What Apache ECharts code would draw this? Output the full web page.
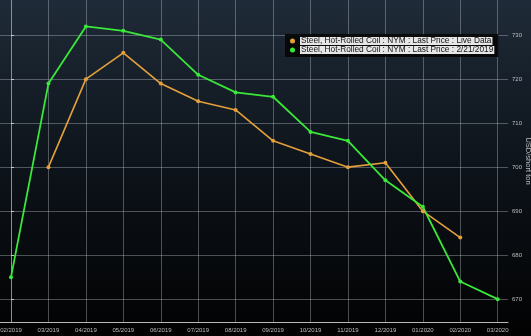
<!DOCTYPE html>
<html>
<head>
<meta charset="utf-8">
<script src="https://cdn.jsdelivr.net/npm/echarts@6/dist/echarts.min.js"></script>
<style>
  html, body { margin: 0; padding: 0; background: #000; }
  #chart { width: 531px; height: 336px; }
</style>
</head>
<body>
<div id="chart"></div>
<script>
// Monthly contract labels along the bottom axis
const months = ['02/2019', '03/2019', '04/2019', '05/2019', '06/2019', '07/2019',
  '08/2019', '09/2019', '10/2019', '11/2019', '12/2019', '01/2020', '02/2020', '03/2020'];

// Last price, live data (USD/short ton)
const liveData = [null, 700, 720, 726, 719, 715, 713, 706, 703, 700, 701, 690, 684, null];

// Last price as of 2/21/2019 (USD/short ton)
const curve20190221 = [675, 719, 732, 731, 729, 721, 717, 716, 708, 706, 697, 691, 674, 670];

// Price tick labels on the right axis
const priceTicks = [670, 680, 690, 700, 710, 720, 730];

const liveName = 'Steel, Hot-Rolled Coil : NYM : Last Price : Live Data';
const histName = 'Steel, Hot-Rolled Coil : NYM : Last Price : 2/21/2019';

const toPoints = arr => arr.map((v, i) => [i, v]);
const monthIdx = months.map((m, i) => i);

const chart = echarts.init(document.getElementById('chart'), null, { renderer: 'canvas' });

const gridLine = { show: true, lineStyle: { color: 'rgba(190,198,206,0.38)', width: 1 } };
const labelFont = 'Liberation Sans, Arial, sans-serif';

chart.setOption({
  animation: false,
  backgroundColor: {
    type: 'linear', x: 0, y: 0, x2: 0, y2: 1,
    colorStops: [
      { offset: 0, color: '#1f2b38' },
      { offset: 0.5, color: '#0d131a' },
      { offset: 1, color: '#020202' }
    ]
  },
  grid: { left: 0, right: 23, top: 0, bottom: 14, containLabel: false, outerBoundsMode: 'none' },
  legend: {
    orient: 'vertical',
    left: 285,
    top: 34,
    padding: [3, 4, 3, 5],
    backgroundColor: 'rgba(6,6,6,0.92)',
    itemWidth: 5,
    itemHeight: 5,
    itemGap: 1,
    icon: 'circle',
    textStyle: {
      color: '#111',
      fontFamily: labelFont,
      fontSize: 8.3,
      backgroundColor: '#e6e6e6',
      padding: [0, 1, 0, 1]
    },
    data: [liveName, histName]
  },
  xAxis: {
    type: 'value',
    min: -0.294,
    max: 13.275,
    axisLine: { show: true, onZero: false, lineStyle: { color: '#b8b8b8', width: 1 } },
    axisTick: { show: false, customValues: monthIdx },
    axisLabel: {
      customValues: monthIdx,
      color: '#bdbdbd',
      fontFamily: labelFont,
      fontSize: 6,
      margin: 5,
      formatter: v => months[Math.round(v)] || ''
    },
    splitLine: gridLine
  },
  yAxis: {
    type: 'value',
    position: 'right',
    min: 664.8,
    max: 738,
    name: 'USD/short ton',
    nameLocation: 'middle',
    nameRotate: -90,
    nameGap: 16,
    nameMoveOverlap: false,
    nameTextStyle: { color: '#bdbdbd', fontFamily: labelFont, fontSize: 7.5 },
    axisLine: { show: true, lineStyle: { color: '#8a8f96', width: 1 } },
    axisTick: { show: true, inside: false, length: 3, customValues: priceTicks, lineStyle: { color: '#c8c8c8' } },
    axisLabel: {
      customValues: priceTicks,
      color: '#bdbdbd',
      fontFamily: labelFont,
      fontSize: 6,
      margin: 4
    },
    splitLine: gridLine
  },
  series: [
    {
      name: liveName,
      type: 'line',
      data: toPoints(liveData),
      connectNulls: false,
      symbol: 'circle',
      symbolSize: 4,
      itemStyle: { color: '#e5a13b' },
      lineStyle: { color: '#e5a13b', width: 1.6 }
    },
    {
      name: histName,
      type: 'line',
      data: toPoints(curve20190221),
      symbol: 'circle',
      symbolSize: 4,
      itemStyle: { color: '#3ae83a' },
      lineStyle: { color: '#3ae83a', width: 1.8 }
    }
  ]
});
</script>
</body>
</html>
